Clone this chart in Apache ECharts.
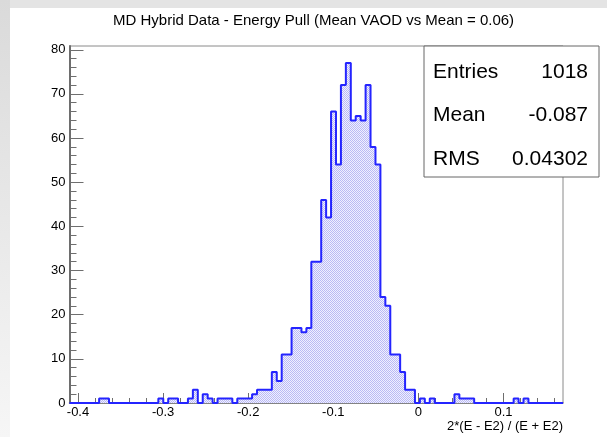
<!DOCTYPE html>
<html>
<head>
<meta charset="utf-8">
<script src="https://cdn.jsdelivr.net/npm/echarts@6/dist/echarts.min.js"></script>
<style>
  html, body { margin: 0; padding: 0; background: #ffffff; }
  #chart { width: 607px; height: 437px; }
</style>
</head>
<body>
<div id="chart"></div>
<script>
// Histogram binning: 100 equal bins between BIN_MIN and BIN_MAX
const BIN_MIN = -0.41;
const BIN_MAX = 0.17;

// Bin contents, left to right
const counts = [
  0, 0, 0, 0, 0, 0, 1, 1, 0, 0,
  0, 0, 0, 0, 0, 0, 0, 0, 1, 0,
  1, 1, 0, 0, 1, 3, 0, 2, 1, 0,
  1, 1, 1, 0, 1, 1, 1, 2, 3, 3,
  3, 7, 5, 11, 11, 17, 17, 16, 17, 32,
  32, 46, 42, 66, 54, 72, 77, 64, 65, 64,
  72, 58, 54, 24, 22, 11, 11, 7, 3, 3,
  0, 1, 0, 1, 0, 0, 0, 0, 2, 1,
  1, 1, 0, 0, 0, 0, 0, 0, 0, 0,
  1, 0, 1, 0, 0, 0, 0, 0, 0, 0
];

// Axis ticks and labels
const xMajorTicks = [-0.4, -0.3, -0.2, -0.1, 0, 0.1];
const xMajorLabels = ['-0.4', '-0.3', '-0.2', '-0.1', '0', '0.1'];
const xMinorTicks = [-0.38, -0.36, -0.34, -0.32, -0.28, -0.26, -0.24, -0.22,
  -0.18, -0.16, -0.14, -0.12, -0.08, -0.06, -0.04, -0.02,
  0.02, 0.04, 0.06, 0.08, 0.12, 0.14, 0.16];
const yMajorTicks = [0, 10, 20, 30, 40, 50, 60, 70, 80];
const yMinorTicks = [2, 4, 6, 8, 12, 14, 16, 18, 22, 24, 26, 28, 32, 34, 36, 38,
  42, 44, 46, 48, 52, 54, 56, 58, 62, 64, 66, 68, 72, 74, 76, 78];
const Y_MAX = 80.85;

// Statistics box
const statNames = ['Entries', 'Mean', 'RMS'];
const statValues = ['1018', '-0.087', '0.04302'];

const titleText = 'MD Hybrid Data - Energy Pull (Mean VAOD vs Mean = 0.06)';
const xTitle = '2*(E - E2) / (E + E2)';

// Step outline points at bin left edges, closed at the upper edge
const binWidth = (BIN_MAX - BIN_MIN) / counts.length;
const stepData = counts.map((c, k) => [BIN_MIN + k * binWidth, c]);
stepData.push([BIN_MAX, counts[counts.length - 1]]);

// Checkered fill texture
function makePattern() {
  const c = document.createElement('canvas');
  c.width = 2; c.height = 2;
  const ctx = c.getContext('2d');
  ctx.fillStyle = '#f0f0ff';
  ctx.fillRect(0, 0, 2, 2);
  ctx.fillStyle = '#babaf4';
  ctx.fillRect(0, 0, 1, 1);
  ctx.fillRect(1, 1, 1, 1);
  return c;
}

const FONT = '"Liberation Sans", Arial, Helvetica, sans-serif';
const AXIS_COLOR = '#6e6e6e';
const GRID_RECT = { left: 69.5, right: 44, top: 46, bottom: 34 };

const chart = echarts.init(document.getElementById('chart'), null, { renderer: 'canvas' });

const statChildren = [{
  type: 'rect',
  shape: { x: 0, y: 0, width: 175, height: 131 },
  style: { fill: '#ffffff', stroke: '#666666', lineWidth: 1 }
}];
statNames.forEach((name, i) => {
  const cy = 26 + i * 43.5;
  statChildren.push({
    type: 'text',
    style: { text: name, x: 9, y: cy, font: '21px ' + FONT, fill: '#000',
      textAlign: 'left', textVerticalAlign: 'middle', align: 'left', verticalAlign: 'middle' }
  });
  statChildren.push({
    type: 'text',
    style: { text: statValues[i], x: 164, y: cy, font: '21px ' + FONT, fill: '#000',
      textAlign: 'right', textVerticalAlign: 'middle', align: 'right', verticalAlign: 'middle' }
  });
});

chart.setOption({
  animation: false,
  backgroundColor: '#ffffff',
  title: {
    text: titleText,
    left: 108,
    top: 8,
    textStyle: { fontFamily: FONT, fontSize: 15, fontWeight: 'normal', color: '#000' }
  },
  // Main frame plus an overlaid grid of the same size carrying the minor ticks
  grid: [
    Object.assign({ show: true, borderColor: '#8a8a8a', borderWidth: 1,
      backgroundColor: 'transparent' }, GRID_RECT),
    Object.assign({ show: false }, GRID_RECT)
  ],
  xAxis: [{
    type: 'value', gridIndex: 0, min: BIN_MIN, max: BIN_MAX,
    axisLine: { show: true, onZero: false, lineStyle: { color: AXIS_COLOR, width: 1.5 } },
    axisTick: { show: true, inside: true, length: 10, customValues: xMajorTicks,
      lineStyle: { color: AXIS_COLOR, width: 1 } },
    axisLabel: { show: true, customValues: xMajorTicks, margin: 3,
      fontFamily: FONT, fontSize: 13, color: '#000',
      formatter: v => {
        const i = xMajorTicks.findIndex(t => Math.abs(t - v) < 1e-9);
        return i >= 0 ? xMajorLabels[i] : '';
      } },
    splitLine: { show: false }
  }, {
    type: 'value', gridIndex: 1, min: BIN_MIN, max: BIN_MAX, position: 'bottom',
    axisLine: { show: false, onZero: false },
    axisTick: { show: true, inside: true, length: 5, customValues: xMinorTicks,
      lineStyle: { color: AXIS_COLOR, width: 1 } },
    axisLabel: { show: false },
    splitLine: { show: false }
  }],
  yAxis: [{
    type: 'value', gridIndex: 0, min: 0, max: Y_MAX,
    axisLine: { show: true, onZero: false, lineStyle: { color: AXIS_COLOR, width: 2 } },
    axisTick: { show: true, inside: true, length: 14, customValues: yMajorTicks,
      lineStyle: { color: AXIS_COLOR, width: 1 } },
    axisLabel: { show: true, customValues: yMajorTicks, margin: 4,
      fontFamily: FONT, fontSize: 13, color: '#000' },
    splitLine: { show: false }
  }, {
    type: 'value', gridIndex: 1, min: 0, max: Y_MAX, position: 'left',
    axisLine: { show: false, onZero: false },
    axisTick: { show: true, inside: true, length: 7, customValues: yMinorTicks,
      lineStyle: { color: AXIS_COLOR, width: 1 } },
    axisLabel: { show: false },
    splitLine: { show: false }
  }],
  series: [{
    type: 'line',
    xAxisIndex: 0, yAxisIndex: 0,
    data: stepData,
    step: 'end',
    symbol: 'none',
    clip: false,
    lineStyle: { color: '#2424ff', width: 2 },
    areaStyle: { color: { image: makePattern(), repeat: 'repeat' }, opacity: 1 },
    z: 3
  }],
  graphic: [
    { type: 'rect', shape: { x: 0, y: 0, width: 607, height: 8 },
      style: { fill: '#e4e4e4' }, z: -10, silent: true },
    { type: 'rect', shape: { x: 0, y: 0, width: 10, height: 437 },
      style: { fill: new echarts.graphic.LinearGradient(0, 0, 0, 1, [
        { offset: 0, color: '#dadada' }, { offset: 1, color: '#f6f6f6' }]) },
      z: -10, silent: true },
    { type: 'group', x: 424, y: 46, children: statChildren, z: 20 },
    { type: 'text', z: 20,
      style: { text: xTitle, x: 563, y: 426, font: '13px ' + FONT, fill: '#000',
        textAlign: 'right', textVerticalAlign: 'middle', align: 'right', verticalAlign: 'middle' } }
  ]
});
</script>
</body>
</html>
